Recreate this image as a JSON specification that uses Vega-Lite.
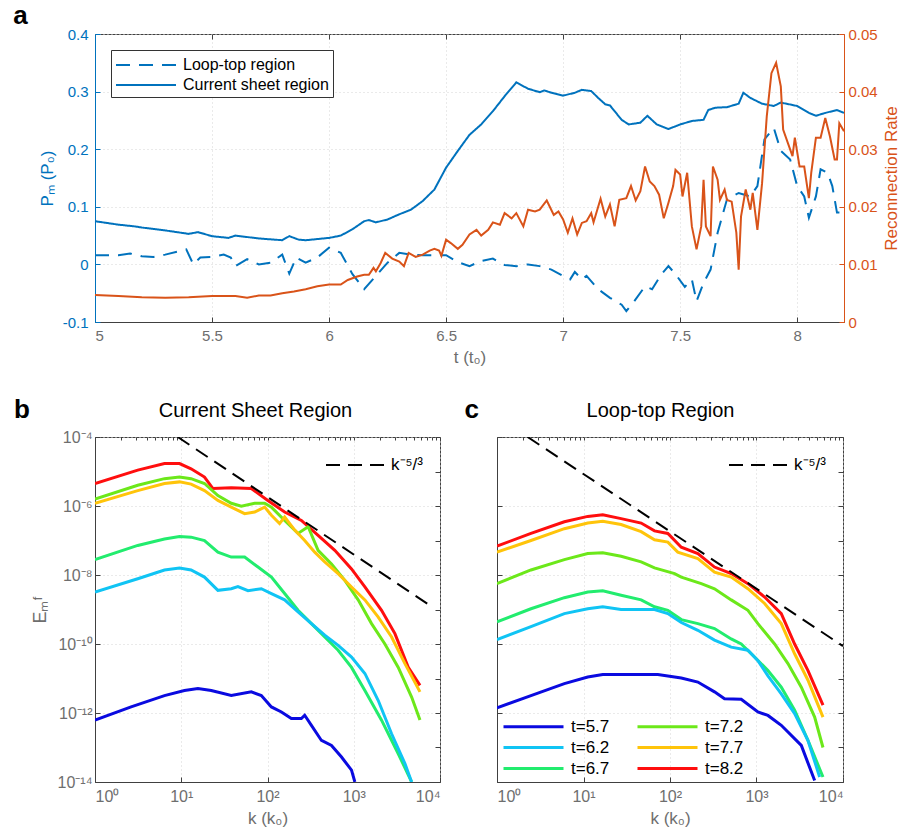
{
  "$schema": "https://vega.github.io/schema/vega-lite/v6.json",
  "background": "white",
  "padding": {"left": 12, "top": 2, "right": 4, "bottom": 4},
  "config": {
    "font": "Liberation Sans",
    "view": {"stroke": "#404040", "strokeWidth": 1},
    "axis": {"domainColor": "#404040", "tickColor": "#404040", "labelColor": "#6e6e6e", "titleColor": "#6e6e6e", "labelFontSize": 15, "titleFontSize": 17, "titleFontWeight": "normal", "gridColor": "#d4d4d4", "gridDash": [1, 3], "tickSize": -5, "labelPadding": 11},
    "legend": {"labelFont": "Liberation Sans", "labelColor": "#000", "labelLimit": 300}
  },
  "datasets": {
    "pm": [
      {"t": 5.0, "P": 0.075, "region": "Current sheet region"}, {"t": 5.1, "P": 0.069, "region": "Current sheet region"}, {"t": 5.17, "P": 0.066, "region": "Current sheet region"}, {"t": 5.2, "P": 0.064, "region": "Current sheet region"}, {"t": 5.3, "P": 0.059, "region": "Current sheet region"}, {"t": 5.4, "P": 0.053, "region": "Current sheet region"}, {"t": 5.44, "P": 0.056, "region": "Current sheet region"}, {"t": 5.5, "P": 0.049, "region": "Current sheet region"}, {"t": 5.57, "P": 0.046, "region": "Current sheet region"}, {"t": 5.6, "P": 0.05, "region": "Current sheet region"}, {"t": 5.7, "P": 0.045, "region": "Current sheet region"}, {"t": 5.8, "P": 0.042, "region": "Current sheet region"}, {"t": 5.83, "P": 0.049, "region": "Current sheet region"}, {"t": 5.87, "P": 0.043, "region": "Current sheet region"}, {"t": 5.9, "P": 0.042, "region": "Current sheet region"}, {"t": 6.0, "P": 0.046, "region": "Current sheet region"}, {"t": 6.05, "P": 0.05, "region": "Current sheet region"}, {"t": 6.1, "P": 0.061, "region": "Current sheet region"}, {"t": 6.15, "P": 0.075, "region": "Current sheet region"}, {"t": 6.17, "P": 0.077, "region": "Current sheet region"}, {"t": 6.2, "P": 0.073, "region": "Current sheet region"}, {"t": 6.25, "P": 0.078, "region": "Current sheet region"}, {"t": 6.3, "P": 0.087, "region": "Current sheet region"}, {"t": 6.35, "P": 0.095, "region": "Current sheet region"}, {"t": 6.4, "P": 0.11, "region": "Current sheet region"}, {"t": 6.45, "P": 0.13, "region": "Current sheet region"}, {"t": 6.5, "P": 0.168, "region": "Current sheet region"}, {"t": 6.55, "P": 0.197, "region": "Current sheet region"}, {"t": 6.6, "P": 0.225, "region": "Current sheet region"}, {"t": 6.65, "P": 0.243, "region": "Current sheet region"}, {"t": 6.7, "P": 0.266, "region": "Current sheet region"}, {"t": 6.75, "P": 0.292, "region": "Current sheet region"}, {"t": 6.8, "P": 0.316, "region": "Current sheet region"}, {"t": 6.85, "P": 0.305, "region": "Current sheet region"}, {"t": 6.9, "P": 0.299, "region": "Current sheet region"}, {"t": 6.92, "P": 0.302, "region": "Current sheet region"}, {"t": 6.95, "P": 0.298, "region": "Current sheet region"}, {"t": 7.0, "P": 0.293, "region": "Current sheet region"}, {"t": 7.05, "P": 0.298, "region": "Current sheet region"}, {"t": 7.08, "P": 0.303, "region": "Current sheet region"}, {"t": 7.12, "P": 0.301, "region": "Current sheet region"}, {"t": 7.15, "P": 0.289, "region": "Current sheet region"}, {"t": 7.18, "P": 0.278, "region": "Current sheet region"}, {"t": 7.2, "P": 0.276, "region": "Current sheet region"}, {"t": 7.25, "P": 0.251, "region": "Current sheet region"}, {"t": 7.28, "P": 0.243, "region": "Current sheet region"}, {"t": 7.33, "P": 0.246, "region": "Current sheet region"}, {"t": 7.36, "P": 0.258, "region": "Current sheet region"}, {"t": 7.4, "P": 0.243, "region": "Current sheet region"}, {"t": 7.45, "P": 0.235, "region": "Current sheet region"}, {"t": 7.5, "P": 0.243, "region": "Current sheet region"}, {"t": 7.55, "P": 0.249, "region": "Current sheet region"}, {"t": 7.6, "P": 0.251, "region": "Current sheet region"}, {"t": 7.62, "P": 0.268, "region": "Current sheet region"}, {"t": 7.65, "P": 0.272, "region": "Current sheet region"}, {"t": 7.7, "P": 0.273, "region": "Current sheet region"}, {"t": 7.75, "P": 0.279, "region": "Current sheet region"}, {"t": 7.77, "P": 0.298, "region": "Current sheet region"}, {"t": 7.8, "P": 0.289, "region": "Current sheet region"}, {"t": 7.85, "P": 0.279, "region": "Current sheet region"}, {"t": 7.9, "P": 0.275, "region": "Current sheet region"}, {"t": 7.93, "P": 0.281, "region": "Current sheet region"}, {"t": 8.0, "P": 0.275, "region": "Current sheet region"}, {"t": 8.05, "P": 0.263, "region": "Current sheet region"}, {"t": 8.08, "P": 0.258, "region": "Current sheet region"}, {"t": 8.12, "P": 0.263, "region": "Current sheet region"}, {"t": 8.17, "P": 0.268, "region": "Current sheet region"}, {"t": 8.2, "P": 0.263, "region": "Current sheet region"},
      {"t": 5.0, "P": 0.016, "region": "Loop-top region"}, {"t": 5.1, "P": 0.016, "region": "Loop-top region"}, {"t": 5.15, "P": 0.019, "region": "Loop-top region"}, {"t": 5.2, "P": 0.014, "region": "Loop-top region"}, {"t": 5.25, "P": 0.013, "region": "Loop-top region"}, {"t": 5.3, "P": 0.017, "region": "Loop-top region"}, {"t": 5.35, "P": 0.022, "region": "Loop-top region"}, {"t": 5.39, "P": 0.026, "region": "Loop-top region"}, {"t": 5.42, "P": 0.0, "region": "Loop-top region"}, {"t": 5.45, "P": 0.012, "region": "Loop-top region"}, {"t": 5.5, "P": 0.013, "region": "Loop-top region"}, {"t": 5.55, "P": 0.017, "region": "Loop-top region"}, {"t": 5.58, "P": 0.012, "region": "Loop-top region"}, {"t": 5.6, "P": -0.003, "region": "Loop-top region"}, {"t": 5.65, "P": 0.009, "region": "Loop-top region"}, {"t": 5.7, "P": 0.0, "region": "Loop-top region"}, {"t": 5.75, "P": 0.003, "region": "Loop-top region"}, {"t": 5.8, "P": 0.017, "region": "Loop-top region"}, {"t": 5.83, "P": -0.016, "region": "Loop-top region"}, {"t": 5.86, "P": 0.012, "region": "Loop-top region"}, {"t": 5.9, "P": 0.003, "region": "Loop-top region"}, {"t": 5.95, "P": 0.012, "region": "Loop-top region"}, {"t": 6.0, "P": 0.029, "region": "Loop-top region"}, {"t": 6.05, "P": 0.02, "region": "Loop-top region"}, {"t": 6.1, "P": -0.017, "region": "Loop-top region"}, {"t": 6.15, "P": -0.043, "region": "Loop-top region"}, {"t": 6.2, "P": -0.02, "region": "Loop-top region"}, {"t": 6.25, "P": 0.003, "region": "Loop-top region"}, {"t": 6.3, "P": 0.02, "region": "Loop-top region"}, {"t": 6.35, "P": 0.017, "region": "Loop-top region"}, {"t": 6.4, "P": 0.016, "region": "Loop-top region"}, {"t": 6.5, "P": 0.016, "region": "Loop-top region"}, {"t": 6.55, "P": 0.004, "region": "Loop-top region"}, {"t": 6.6, "P": -0.003, "region": "Loop-top region"}, {"t": 6.65, "P": 0.006, "region": "Loop-top region"}, {"t": 6.7, "P": 0.01, "region": "Loop-top region"}, {"t": 6.75, "P": -0.001, "region": "Loop-top region"}, {"t": 6.8, "P": -0.003, "region": "Loop-top region"}, {"t": 6.85, "P": 0.0, "region": "Loop-top region"}, {"t": 6.9, "P": -0.003, "region": "Loop-top region"}, {"t": 6.95, "P": -0.009, "region": "Loop-top region"}, {"t": 7.0, "P": -0.02, "region": "Loop-top region"}, {"t": 7.03, "P": -0.026, "region": "Loop-top region"}, {"t": 7.05, "P": -0.013, "region": "Loop-top region"}, {"t": 7.08, "P": -0.026, "region": "Loop-top region"}, {"t": 7.1, "P": -0.02, "region": "Loop-top region"}, {"t": 7.15, "P": -0.043, "region": "Loop-top region"}, {"t": 7.2, "P": -0.058, "region": "Loop-top region"}, {"t": 7.25, "P": -0.07, "region": "Loop-top region"}, {"t": 7.27, "P": -0.081, "region": "Loop-top region"}, {"t": 7.3, "P": -0.066, "region": "Loop-top region"}, {"t": 7.35, "P": -0.038, "region": "Loop-top region"}, {"t": 7.38, "P": -0.043, "region": "Loop-top region"}, {"t": 7.42, "P": -0.017, "region": "Loop-top region"}, {"t": 7.45, "P": -0.003, "region": "Loop-top region"}, {"t": 7.48, "P": -0.017, "region": "Loop-top region"}, {"t": 7.52, "P": -0.039, "region": "Loop-top region"}, {"t": 7.55, "P": -0.026, "region": "Loop-top region"}, {"t": 7.57, "P": -0.064, "region": "Loop-top region"}, {"t": 7.6, "P": -0.032, "region": "Loop-top region"}, {"t": 7.63, "P": -0.009, "region": "Loop-top region"}, {"t": 7.66, "P": 0.055, "region": "Loop-top region"}, {"t": 7.7, "P": 0.113, "region": "Loop-top region"}, {"t": 7.75, "P": 0.124, "region": "Loop-top region"}, {"t": 7.8, "P": 0.118, "region": "Loop-top region"}, {"t": 7.83, "P": 0.136, "region": "Loop-top region"}, {"t": 7.86, "P": 0.217, "region": "Loop-top region"}, {"t": 7.9, "P": 0.237, "region": "Loop-top region"}, {"t": 7.93, "P": 0.197, "region": "Loop-top region"}, {"t": 7.97, "P": 0.182, "region": "Loop-top region"}, {"t": 8.0, "P": 0.136, "region": "Loop-top region"}, {"t": 8.03, "P": 0.118, "region": "Loop-top region"}, {"t": 8.05, "P": 0.081, "region": "Loop-top region"}, {"t": 8.08, "P": 0.118, "region": "Loop-top region"}, {"t": 8.1, "P": 0.165, "region": "Loop-top region"}, {"t": 8.13, "P": 0.159, "region": "Loop-top region"}, {"t": 8.15, "P": 0.136, "region": "Loop-top region"}, {"t": 8.17, "P": 0.09, "region": "Loop-top region"}, {"t": 8.2, "P": 0.09, "region": "Loop-top region"}
    ],
    "rate": [
      {"t": 5.0, "R": 0.0047}, {"t": 5.1, "R": 0.0045}, {"t": 5.2, "R": 0.0043}, {"t": 5.3, "R": 0.0042}, {"t": 5.4, "R": 0.0043}, {"t": 5.5, "R": 0.0045}, {"t": 5.6, "R": 0.0045}, {"t": 5.65, "R": 0.0042}, {"t": 5.7, "R": 0.0046}, {"t": 5.75, "R": 0.0046}, {"t": 5.8, "R": 0.005}, {"t": 5.85, "R": 0.0053}, {"t": 5.9, "R": 0.0057}, {"t": 5.95, "R": 0.0062}, {"t": 6.0, "R": 0.0065}, {"t": 6.05, "R": 0.0065}, {"t": 6.08, "R": 0.0073}, {"t": 6.12, "R": 0.0079}, {"t": 6.15, "R": 0.0082}, {"t": 6.17, "R": 0.0082}, {"t": 6.19, "R": 0.0094}, {"t": 6.2, "R": 0.0088}, {"t": 6.22, "R": 0.0102}, {"t": 6.24, "R": 0.012}, {"t": 6.27, "R": 0.011}, {"t": 6.3, "R": 0.0105}, {"t": 6.32, "R": 0.0097}, {"t": 6.34, "R": 0.012}, {"t": 6.37, "R": 0.0113}, {"t": 6.4, "R": 0.0117}, {"t": 6.43, "R": 0.0124}, {"t": 6.45, "R": 0.0127}, {"t": 6.47, "R": 0.0124}, {"t": 6.48, "R": 0.0115}, {"t": 6.5, "R": 0.0143}, {"t": 6.52, "R": 0.0137}, {"t": 6.55, "R": 0.0127}, {"t": 6.57, "R": 0.0134}, {"t": 6.6, "R": 0.0152}, {"t": 6.63, "R": 0.016}, {"t": 6.65, "R": 0.015}, {"t": 6.68, "R": 0.016}, {"t": 6.7, "R": 0.0173}, {"t": 6.73, "R": 0.0169}, {"t": 6.75, "R": 0.0189}, {"t": 6.78, "R": 0.018}, {"t": 6.8, "R": 0.0189}, {"t": 6.83, "R": 0.0166}, {"t": 6.85, "R": 0.0195}, {"t": 6.88, "R": 0.0192}, {"t": 6.9, "R": 0.0195}, {"t": 6.93, "R": 0.0211}, {"t": 6.96, "R": 0.0186}, {"t": 6.98, "R": 0.0192}, {"t": 7.0, "R": 0.0178}, {"t": 7.02, "R": 0.0155}, {"t": 7.04, "R": 0.018}, {"t": 7.06, "R": 0.0152}, {"t": 7.08, "R": 0.0172}, {"t": 7.1, "R": 0.0175}, {"t": 7.12, "R": 0.0189}, {"t": 7.13, "R": 0.0173}, {"t": 7.16, "R": 0.0214}, {"t": 7.18, "R": 0.0183}, {"t": 7.2, "R": 0.0204}, {"t": 7.22, "R": 0.0166}, {"t": 7.24, "R": 0.0212}, {"t": 7.27, "R": 0.0215}, {"t": 7.29, "R": 0.0236}, {"t": 7.31, "R": 0.0211}, {"t": 7.33, "R": 0.0227}, {"t": 7.35, "R": 0.027}, {"t": 7.37, "R": 0.0244}, {"t": 7.39, "R": 0.0236}, {"t": 7.41, "R": 0.0221}, {"t": 7.43, "R": 0.018}, {"t": 7.45, "R": 0.0207}, {"t": 7.47, "R": 0.0236}, {"t": 7.48, "R": 0.0264}, {"t": 7.5, "R": 0.0256}, {"t": 7.51, "R": 0.0218}, {"t": 7.53, "R": 0.0259}, {"t": 7.55, "R": 0.0166}, {"t": 7.57, "R": 0.0126}, {"t": 7.59, "R": 0.0166}, {"t": 7.6, "R": 0.0247}, {"t": 7.61, "R": 0.0166}, {"t": 7.63, "R": 0.0149}, {"t": 7.64, "R": 0.027}, {"t": 7.66, "R": 0.0247}, {"t": 7.67, "R": 0.0212}, {"t": 7.69, "R": 0.023}, {"t": 7.7, "R": 0.0212}, {"t": 7.72, "R": 0.0209}, {"t": 7.74, "R": 0.0155}, {"t": 7.75, "R": 0.0091}, {"t": 7.76, "R": 0.0183}, {"t": 7.78, "R": 0.023}, {"t": 7.8, "R": 0.0195}, {"t": 7.81, "R": 0.0224}, {"t": 7.83, "R": 0.016}, {"t": 7.85, "R": 0.0241}, {"t": 7.87, "R": 0.0357}, {"t": 7.89, "R": 0.0432}, {"t": 7.91, "R": 0.045}, {"t": 7.93, "R": 0.0409}, {"t": 7.94, "R": 0.0334}, {"t": 7.96, "R": 0.0311}, {"t": 7.98, "R": 0.0288}, {"t": 7.99, "R": 0.032}, {"t": 8.01, "R": 0.027}, {"t": 8.03, "R": 0.027}, {"t": 8.05, "R": 0.0215}, {"t": 8.06, "R": 0.0259}, {"t": 8.08, "R": 0.032}, {"t": 8.1, "R": 0.032}, {"t": 8.12, "R": 0.0354}, {"t": 8.14, "R": 0.0322}, {"t": 8.16, "R": 0.0282}, {"t": 8.17, "R": 0.0282}, {"t": 8.18, "R": 0.0345}, {"t": 8.2, "R": 0.0331}
    ],
    "specB": [
      {"k": 1, "E": 4.5e-6, "s": "t=8.2"}, {"k": 3.13, "E": 1.1e-5, "s": "t=8.2"}, {"k": 6.39, "E": 1.7e-5, "s": "t=8.2"}, {"k": 9.55, "E": 1.7e-5, "s": "t=8.2"}, {"k": 13, "E": 1.2e-5, "s": "t=8.2"}, {"k": 18.6, "E": 6.9e-6, "s": "t=8.2"}, {"k": 23.3, "E": 3.2e-6, "s": "t=8.2"}, {"k": 38, "E": 3.4e-6, "s": "t=8.2"}, {"k": 64.9, "E": 3.2e-6, "s": "t=8.2"}, {"k": 101, "E": 1.45e-6, "s": "t=8.2"}, {"k": 158, "E": 6.7e-7, "s": "t=8.2"}, {"k": 247, "E": 3.8e-7, "s": "t=8.2"}, {"k": 386, "E": 1.4e-7, "s": "t=8.2"}, {"k": 603, "E": 5.2e-8, "s": "t=8.2"}, {"k": 942, "E": 1.5e-8, "s": "t=8.2"}, {"k": 1346, "E": 4.5e-9, "s": "t=8.2"}, {"k": 2100, "E": 9.5e-10, "s": "t=8.2"}, {"k": 3001, "E": 2e-10, "s": "t=8.2"}, {"k": 4287, "E": 2.1e-11, "s": "t=8.2"}, {"k": 5857, "E": 6.3e-12, "s": "t=8.2"},
      {"k": 1, "E": 1.6e-6, "s": "t=7.2"}, {"k": 3.13, "E": 4e-6, "s": "t=7.2"}, {"k": 6.39, "E": 6.2e-6, "s": "t=7.2"}, {"k": 9.55, "E": 6.9e-6, "s": "t=7.2"}, {"k": 13, "E": 6.2e-6, "s": "t=7.2"}, {"k": 18.6, "E": 4.5e-6, "s": "t=7.2"}, {"k": 26.6, "E": 2e-6, "s": "t=7.2"}, {"k": 38, "E": 1.2e-6, "s": "t=7.2"}, {"k": 49.7, "E": 9.8e-7, "s": "t=7.2"}, {"k": 71, "E": 1.2e-6, "s": "t=7.2"}, {"k": 92.7, "E": 1.2e-6, "s": "t=7.2"}, {"k": 111, "E": 9.3e-7, "s": "t=7.2"}, {"k": 158, "E": 3.8e-7, "s": "t=7.2"}, {"k": 226, "E": 1.6e-7, "s": "t=7.2"}, {"k": 296, "E": 2.5e-7, "s": "t=7.2"}, {"k": 386, "E": 5.2e-8, "s": "t=7.2"}, {"k": 552, "E": 2.1e-8, "s": "t=7.2"}, {"k": 788, "E": 7e-9, "s": "t=7.2"}, {"k": 1125, "E": 1.9e-9, "s": "t=7.2"}, {"k": 1608, "E": 3.9e-10, "s": "t=7.2"}, {"k": 2297, "E": 1e-10, "s": "t=7.2"}, {"k": 3281, "E": 2.1e-11, "s": "t=7.2"}, {"k": 4688, "E": 2.9e-12, "s": "t=7.2"}, {"k": 5857, "E": 6.3e-13, "s": "t=7.2"},
      {"k": 1, "E": 1.2e-6, "s": "t=7.7"}, {"k": 3.13, "E": 2.8e-6, "s": "t=7.7"}, {"k": 6.39, "E": 4.5e-6, "s": "t=7.7"}, {"k": 9.55, "E": 5e-6, "s": "t=7.7"}, {"k": 13, "E": 4.3e-6, "s": "t=7.7"}, {"k": 18.6, "E": 2.8e-6, "s": "t=7.7"}, {"k": 26.6, "E": 1.45e-6, "s": "t=7.7"}, {"k": 38, "E": 9.3e-7, "s": "t=7.7"}, {"k": 54.3, "E": 6e-7, "s": "t=7.7"}, {"k": 71, "E": 6.7e-7, "s": "t=7.7"}, {"k": 92.7, "E": 9.3e-7, "s": "t=7.7"}, {"k": 111, "E": 5.4e-7, "s": "t=7.7"}, {"k": 138, "E": 3.1e-7, "s": "t=7.7"}, {"k": 158, "E": 4.8e-7, "s": "t=7.7"}, {"k": 207, "E": 2e-7, "s": "t=7.7"}, {"k": 270, "E": 1e-7, "s": "t=7.7"}, {"k": 353, "E": 4.6e-8, "s": "t=7.7"}, {"k": 461, "E": 2.4e-8, "s": "t=7.7"}, {"k": 659, "E": 1.1e-8, "s": "t=7.7"}, {"k": 942, "E": 4.5e-9, "s": "t=7.7"}, {"k": 1346, "E": 1.9e-9, "s": "t=7.7"}, {"k": 1923, "E": 6e-10, "s": "t=7.7"}, {"k": 2746, "E": 1.6e-10, "s": "t=7.7"}, {"k": 3921, "E": 2.7e-11, "s": "t=7.7"}, {"k": 5857, "E": 4.1e-12, "s": "t=7.7"},
      {"k": 1, "E": 2.8e-8, "s": "t=6.7"}, {"k": 3.13, "E": 7.2e-8, "s": "t=6.7"}, {"k": 6.39, "E": 1.1e-7, "s": "t=6.7"}, {"k": 9.55, "E": 1.3e-7, "s": "t=6.7"}, {"k": 13, "E": 1.25e-7, "s": "t=6.7"}, {"k": 18.6, "E": 1e-7, "s": "t=6.7"}, {"k": 26.6, "E": 4.6e-8, "s": "t=6.7"}, {"k": 38, "E": 3.3e-8, "s": "t=6.7"}, {"k": 54.3, "E": 3.3e-8, "s": "t=6.7"}, {"k": 77.6, "E": 1.7e-8, "s": "t=6.7"}, {"k": 111, "E": 8.7e-9, "s": "t=6.7"}, {"k": 158, "E": 2.9e-9, "s": "t=6.7"}, {"k": 226, "E": 9.5e-10, "s": "t=6.7"}, {"k": 323, "E": 3.9e-10, "s": "t=6.7"}, {"k": 461, "E": 1.6e-10, "s": "t=6.7"}, {"k": 659, "E": 6.6e-11, "s": "t=6.7"}, {"k": 942, "E": 2.1e-11, "s": "t=6.7"}, {"k": 1346, "E": 4.5e-12, "s": "t=6.7"}, {"k": 2100, "E": 6.2e-13, "s": "t=6.7"}, {"k": 3281, "E": 6.6e-14, "s": "t=6.7"}, {"k": 4688, "E": 1e-14, "s": "t=6.7"},
      {"k": 1, "E": 3.2e-9, "s": "t=6.2"}, {"k": 3.13, "E": 7.8e-9, "s": "t=6.2"}, {"k": 6.39, "E": 1.4e-8, "s": "t=6.2"}, {"k": 9.55, "E": 1.6e-8, "s": "t=6.2"}, {"k": 13, "E": 1.4e-8, "s": "t=6.2"}, {"k": 18.6, "E": 8.7e-9, "s": "t=6.2"}, {"k": 26.6, "E": 3.6e-9, "s": "t=6.2"}, {"k": 38, "E": 4e-9, "s": "t=6.2"}, {"k": 45.4, "E": 4.6e-9, "s": "t=6.2"}, {"k": 59.4, "E": 3.5e-9, "s": "t=6.2"}, {"k": 84.8, "E": 4e-9, "s": "t=6.2"}, {"k": 111, "E": 2.9e-9, "s": "t=6.2"}, {"k": 158, "E": 1.9e-9, "s": "t=6.2"}, {"k": 226, "E": 8.5e-10, "s": "t=6.2"}, {"k": 323, "E": 3.9e-10, "s": "t=6.2"}, {"k": 461, "E": 1.8e-10, "s": "t=6.2"}, {"k": 659, "E": 9.1e-11, "s": "t=6.2"}, {"k": 942, "E": 4.2e-11, "s": "t=6.2"}, {"k": 1346, "E": 1.4e-11, "s": "t=6.2"}, {"k": 1923, "E": 2.3e-12, "s": "t=6.2"}, {"k": 2746, "E": 2.5e-13, "s": "t=6.2"}, {"k": 3921, "E": 3.4e-14, "s": "t=6.2"}, {"k": 4688, "E": 1e-14, "s": "t=6.2"},
      {"k": 1, "E": 6.2e-13, "s": "t=5.7"}, {"k": 2.62, "E": 1.5e-12, "s": "t=5.7"}, {"k": 6.39, "E": 3.2e-12, "s": "t=5.7"}, {"k": 10.9, "E": 4.5e-12, "s": "t=5.7"}, {"k": 15.6, "E": 5.1e-12, "s": "t=5.7"}, {"k": 22.3, "E": 4.5e-12, "s": "t=5.7"}, {"k": 38, "E": 3.2e-12, "s": "t=5.7"}, {"k": 64.9, "E": 4.1e-12, "s": "t=5.7"}, {"k": 84.8, "E": 3.2e-12, "s": "t=5.7"}, {"k": 111, "E": 1.5e-12, "s": "t=5.7"}, {"k": 145, "E": 1.07e-12, "s": "t=5.7"}, {"k": 189, "E": 6.9e-13, "s": "t=5.7"}, {"k": 247, "E": 6.9e-13, "s": "t=5.7"}, {"k": 270, "E": 8.6e-13, "s": "t=5.7"}, {"k": 323, "E": 4.4e-13, "s": "t=5.7"}, {"k": 422, "E": 1.6e-13, "s": "t=5.7"}, {"k": 552, "E": 1.15e-13, "s": "t=5.7"}, {"k": 721, "E": 5.3e-14, "s": "t=5.7"}, {"k": 942, "E": 2.2e-14, "s": "t=5.7"}, {"k": 1030, "E": 1e-14, "s": "t=5.7"}
    ],
    "specC": [
      {"k": 1, "E": 6.9e-8, "s": "t=8.2"}, {"k": 2.47, "E": 1.6e-7, "s": "t=8.2"}, {"k": 6.01, "E": 3.5e-7, "s": "t=8.2"}, {"k": 11.2, "E": 5e-7, "s": "t=8.2"}, {"k": 16.7, "E": 5.6e-7, "s": "t=8.2"}, {"k": 27.2, "E": 4.3e-7, "s": "t=8.2"}, {"k": 46.4, "E": 3.2e-7, "s": "t=8.2"}, {"k": 66.2, "E": 1.9e-7, "s": "t=8.2"}, {"k": 94.4, "E": 1.6e-7, "s": "t=8.2"}, {"k": 135, "E": 6.4e-8, "s": "t=8.2"}, {"k": 210, "E": 4.2e-8, "s": "t=8.2"}, {"k": 327, "E": 1.7e-8, "s": "t=8.2"}, {"k": 510, "E": 1.1e-8, "s": "t=8.2"}, {"k": 796, "E": 5.6e-9, "s": "t=8.2"}, {"k": 1241, "E": 2.3e-9, "s": "t=8.2"}, {"k": 1934, "E": 7.6e-10, "s": "t=8.2"}, {"k": 2759, "E": 1e-10, "s": "t=8.2"}, {"k": 3937, "E": 1.7e-11, "s": "t=8.2"}, {"k": 5870, "E": 1.7e-12, "s": "t=8.2"},
      {"k": 1, "E": 4.6e-8, "s": "t=7.7"}, {"k": 2.47, "E": 1e-7, "s": "t=7.7"}, {"k": 6.01, "E": 2.2e-7, "s": "t=7.7"}, {"k": 11.2, "E": 3.2e-7, "s": "t=7.7"}, {"k": 16.7, "E": 3.6e-7, "s": "t=7.7"}, {"k": 27.2, "E": 2.9e-7, "s": "t=7.7"}, {"k": 46.4, "E": 1.8e-7, "s": "t=7.7"}, {"k": 66.2, "E": 1.05e-7, "s": "t=7.7"}, {"k": 94.4, "E": 9e-8, "s": "t=7.7"}, {"k": 123, "E": 4.6e-8, "s": "t=7.7"}, {"k": 210, "E": 3e-8, "s": "t=7.7"}, {"k": 327, "E": 1.2e-8, "s": "t=7.7"}, {"k": 510, "E": 8.7e-9, "s": "t=7.7"}, {"k": 796, "E": 4e-9, "s": "t=7.7"}, {"k": 1241, "E": 1.5e-9, "s": "t=7.7"}, {"k": 1934, "E": 3.9e-10, "s": "t=7.7"}, {"k": 2759, "E": 5.2e-11, "s": "t=7.7"}, {"k": 3937, "E": 8.9e-12, "s": "t=7.7"}, {"k": 5870, "E": 7.6e-13, "s": "t=7.7"},
      {"k": 1, "E": 5.6e-9, "s": "t=7.2"}, {"k": 2.47, "E": 1.4e-8, "s": "t=7.2"}, {"k": 6.01, "E": 2.8e-8, "s": "t=7.2"}, {"k": 11.2, "E": 4.2e-8, "s": "t=7.2"}, {"k": 16.7, "E": 4.4e-8, "s": "t=7.2"}, {"k": 27.2, "E": 3.5e-8, "s": "t=7.2"}, {"k": 46.4, "E": 2.4e-8, "s": "t=7.2"}, {"k": 66.2, "E": 1.6e-8, "s": "t=7.2"}, {"k": 113, "E": 1.1e-8, "s": "t=7.2"}, {"k": 135, "E": 8.7e-9, "s": "t=7.2"}, {"k": 230, "E": 5.6e-9, "s": "t=7.2"}, {"k": 327, "E": 4e-9, "s": "t=7.2"}, {"k": 510, "E": 1.9e-9, "s": "t=7.2"}, {"k": 796, "E": 9.5e-10, "s": "t=7.2"}, {"k": 1038, "E": 3.9e-10, "s": "t=7.2"}, {"k": 1619, "E": 1e-10, "s": "t=7.2"}, {"k": 2310, "E": 2.7e-11, "s": "t=7.2"}, {"k": 3296, "E": 5.6e-12, "s": "t=7.2"}, {"k": 4702, "E": 7.6e-13, "s": "t=7.2"}, {"k": 5870, "E": 1e-13, "s": "t=7.2"},
      {"k": 1, "E": 4.4e-10, "s": "t=6.7"}, {"k": 2.47, "E": 1.05e-9, "s": "t=6.7"}, {"k": 6.01, "E": 2.2e-9, "s": "t=6.7"}, {"k": 11.2, "E": 3.2e-9, "s": "t=6.7"}, {"k": 16.7, "E": 3.5e-9, "s": "t=6.7"}, {"k": 27.2, "E": 2.6e-9, "s": "t=6.7"}, {"k": 46.4, "E": 1.9e-9, "s": "t=6.7"}, {"k": 66.2, "E": 1.2e-9, "s": "t=6.7"}, {"k": 94.4, "E": 9.5e-10, "s": "t=6.7"}, {"k": 135, "E": 5.1e-10, "s": "t=6.7"}, {"k": 210, "E": 3.9e-10, "s": "t=6.7"}, {"k": 327, "E": 2.8e-10, "s": "t=6.7"}, {"k": 510, "E": 1.4e-10, "s": "t=6.7"}, {"k": 666, "E": 1e-10, "s": "t=6.7"}, {"k": 951, "E": 4.2e-11, "s": "t=6.7"}, {"k": 1356, "E": 1.7e-11, "s": "t=6.7"}, {"k": 1934, "E": 5.6e-12, "s": "t=6.7"}, {"k": 2759, "E": 1.2e-12, "s": "t=6.7"}, {"k": 3937, "E": 1.6e-13, "s": "t=6.7"}, {"k": 5870, "E": 1.4e-14, "s": "t=6.7"},
      {"k": 1, "E": 1.35e-10, "s": "t=6.2"}, {"k": 2.47, "E": 3.2e-10, "s": "t=6.2"}, {"k": 6.01, "E": 7.6e-10, "s": "t=6.2"}, {"k": 11.2, "E": 1.05e-9, "s": "t=6.2"}, {"k": 16.7, "E": 1.2e-9, "s": "t=6.2"}, {"k": 27.2, "E": 1e-9, "s": "t=6.2"}, {"k": 46.4, "E": 1e-9, "s": "t=6.2"}, {"k": 66.2, "E": 1e-9, "s": "t=6.2"}, {"k": 94.4, "E": 7.6e-10, "s": "t=6.2"}, {"k": 135, "E": 4.2e-10, "s": "t=6.2"}, {"k": 210, "E": 2.5e-10, "s": "t=6.2"}, {"k": 327, "E": 1.3e-10, "s": "t=6.2"}, {"k": 510, "E": 8.1e-11, "s": "t=6.2"}, {"k": 796, "E": 6.6e-11, "s": "t=6.2"}, {"k": 1038, "E": 3.3e-11, "s": "t=6.2"}, {"k": 1356, "E": 1.2e-11, "s": "t=6.2"}, {"k": 1934, "E": 3.6e-12, "s": "t=6.2"}, {"k": 2759, "E": 9.6e-13, "s": "t=6.2"}, {"k": 3937, "E": 1.6e-13, "s": "t=6.2"}, {"k": 5369, "E": 1.4e-14, "s": "t=6.2"},
      {"k": 1, "E": 1.4e-12, "s": "t=5.7"}, {"k": 2.47, "E": 3.2e-12, "s": "t=5.7"}, {"k": 6.01, "E": 7.1e-12, "s": "t=5.7"}, {"k": 11.2, "E": 1.1e-11, "s": "t=5.7"}, {"k": 16.7, "E": 1.3e-11, "s": "t=5.7"}, {"k": 27.2, "E": 1.3e-11, "s": "t=5.7"}, {"k": 46.4, "E": 1.3e-11, "s": "t=5.7"}, {"k": 72.3, "E": 1.3e-11, "s": "t=5.7"}, {"k": 135, "E": 1.03e-11, "s": "t=5.7"}, {"k": 210, "E": 7.9e-12, "s": "t=5.7"}, {"k": 327, "E": 4.1e-12, "s": "t=5.7"}, {"k": 427, "E": 2.6e-12, "s": "t=5.7"}, {"k": 666, "E": 2.5e-12, "s": "t=5.7"}, {"k": 1038, "E": 1.07e-12, "s": "t=5.7"}, {"k": 1356, "E": 8.5e-13, "s": "t=5.7"}, {"k": 1934, "E": 4.4e-13, "s": "t=5.7"}, {"k": 3296, "E": 1.15e-13, "s": "t=5.7"}, {"k": 4702, "E": 1.1e-14, "s": "t=5.7"}
    ],
    "kB": [{"k": 9.1, "E": 1e-4, "n": "k⁻⁵/³"}, {"k": 8370, "E": 1.13e-9, "n": "k⁻⁵/³"}],
    "kC": [{"k": 2.26, "E": 1e-4, "n": "k⁻⁵/³"}, {"k": 10000, "E": 8.7e-11, "n": "k⁻⁵/³"}]
  },
  "spacing": 115,
  "bounds": "flush",
  "resolve": {"scale": {"strokeDash": "independent", "color": "independent"}, "legend": {"strokeDash": "independent", "color": "independent"}},
  "vconcat": [
    {
      "width": 749,
      "height": 288,
      "title": {"text": "a", "anchor": "start", "frame": "bounds", "fontSize": 26, "fontWeight": "bold", "color": "#000", "dx": -25, "offset": -2},
      "layer": [
        {
          "data": {"name": "pm"},
          "mark": {"type": "line", "color": "#0072BD", "strokeWidth": 2},
          "encoding": {
            "x": {"field": "t", "type": "quantitative", "scale": {"domain": [5, 8.2], "nice": false, "zero": false},
              "axis": {"values": [5, 5.5, 6, 6.5, 7, 7.5, 8], "labelExpr": "'' + datum.value", "title": "t (t₀)", "grid": true, "titlePadding": 6}},
            "y": {"field": "P", "type": "quantitative", "scale": {"domain": [-0.1, 0.4], "nice": false, "zero": false},
              "axis": {"values": [-0.1, 0, 0.1, 0.2, 0.3, 0.4], "labelExpr": "'' + datum.value", "title": "Pₘ (P₀)", "grid": true, "domainColor": "#0072BD", "tickColor": "#0072BD", "labelColor": "#0072BD", "titleColor": "#0072BD", "labelPadding": 12, "titlePadding": 6}},
            "strokeDash": {"field": "region", "type": "nominal", "scale": {"domain": ["Loop-top region", "Current sheet region"], "range": [[14, 9], [1, 0]]},
              "legend": {"title": null, "orient": "top-left", "offset": 16, "strokeColor": "#333", "fillColor": "white", "padding": 4, "symbolType": "M-1,0H5", "symbolSize": 400, "symbolStrokeWidth": 2, "symbolStrokeColor": "#0072BD", "labelFontSize": 16, "labelColor": "#000", "rowPadding": 1, "labelOffset": 46}}
          }
        },
        {
          "data": {"name": "rate"},
          "mark": {"type": "line", "color": "#D95319", "strokeWidth": 2},
          "encoding": {
            "x": {"field": "t", "type": "quantitative", "scale": {"domain": [5, 8.2], "nice": false, "zero": false},
              "axis": {"orient": "top", "values": [5, 5.5, 6, 6.5, 7, 7.5, 8], "labels": false, "domain": false, "grid": false, "title": null}},
            "y": {"field": "R", "type": "quantitative", "scale": {"domain": [0, 0.05], "nice": false},
              "axis": {"orient": "right", "values": [0, 0.01, 0.02, 0.03, 0.04, 0.05], "labelExpr": "'' + datum.value", "title": "Reconnection Rate", "titleAngle": 270, "titleBaseline": "top", "grid": false, "domainColor": "#D95319", "tickColor": "#D95319", "labelColor": "#D95319", "titleColor": "#D95319", "labelPadding": 9, "titlePadding": 6}}
          }
        }
      ],
      "resolve": {"scale": {"y": "independent"}, "axis": {"x": "independent"}}
    },
    {
      "hconcat": [
        {
          "width": 345,
          "height": 345,
          "title": {"text": "b", "anchor": "start", "frame": "bounds", "fontSize": 26, "fontWeight": "bold", "color": "#000", "dx": -17, "dy": 26},
          "layer": [
            {
              "data": {"name": "specB"},
              "mark": {"type": "line", "strokeWidth": 3, "clip": true},
              "encoding": {
                "x": {"field": "k", "type": "quantitative", "scale": {"type": "log", "domain": [1, 10000]},
                  "axis": {"values": [1, 10, 100, 1000, 10000], "labelExpr": "'10' + ['⁰','¹','²','³','⁴'][round(log(datum.value)/LN10)]", "labelFontSize": 16, "title": "k (k₀)", "grid": true, "titlePadding": 6}},
                "y": {"field": "E", "type": "quantitative", "scale": {"type": "log", "domain": [1e-14, 1e-4]},
                  "axis": {"values": [1e-14, 1e-12, 1e-10, 1e-8, 1e-6, 1e-4], "labelExpr": "'10' + ['⁻¹⁴','⁻¹²','⁻¹⁰','⁻⁸','⁻⁶','⁻⁴'][round((log(datum.value)/LN10 + 14)/2)]", "labelFontSize": 16, "title": "Eₘᶠ", "titleFontSize": 18, "grid": true, "labelPadding": 8, "titlePadding": 8}},
                "color": {"field": "s", "type": "nominal", "scale": {"domain": ["t=5.7", "t=6.2", "t=6.7", "t=7.2", "t=7.7", "t=8.2"], "range": ["#0a0ae0", "#10c4f4", "#22ec6e", "#6ce81a", "#ffc40a", "#ff0e0e"]}, "legend": null}
              }
            },
            {
              "data": {"name": "kB"},
              "mark": {"type": "line", "strokeWidth": 2, "color": "#000", "clip": true},
              "encoding": {
                "x": {"field": "k", "type": "quantitative", "scale": {"type": "log", "domain": [1, 10000]},
                  "axis": {"orient": "top", "values": [1, 2, 3, 4, 5, 6, 7, 8, 9, 10, 20, 30, 40, 50, 60, 70, 80, 90, 100, 200, 300, 400, 500, 600, 700, 800, 900, 1000, 2000, 3000, 4000, 5000, 6000, 7000, 8000, 9000, 10000], "tickSize": -3, "labels": false, "domain": false, "grid": false, "title": "Current Sheet Region", "titleFontSize": 20, "titleColor": "#000", "titlePadding": 16, "titleX": 160, "titleAlign": "center"}},
                "y": {"field": "E", "type": "quantitative", "scale": {"type": "log", "domain": [1e-14, 1e-4]},
                  "axis": {"orient": "right", "values": [1e-14, 1e-13, 1e-12, 1e-11, 1e-10, 1e-9, 1e-8, 1e-7, 1e-6, 1e-5, 1e-4], "labels": false, "domain": false, "grid": false, "title": null}},
                "strokeDash": {"field": "n", "type": "nominal", "scale": {"range": [[14, 8]]},
                  "legend": {"title": null, "orient": "top-right", "offset": 17, "padding": 0, "symbolType": "M-1,0H5", "symbolSize": 400, "symbolStrokeWidth": 2, "symbolStrokeColor": "#000", "labelFontSize": 17, "labelColor": "#000", "labelOffset": 44}}
              }
            }
          ],
          "resolve": {"axis": {"x": "independent", "y": "independent"}}
        },
        {
          "width": 346,
          "height": 345,
          "title": {"text": "c", "anchor": "start", "frame": "bounds", "fontSize": 26, "fontWeight": "bold", "color": "#000", "dx": -32, "dy": 26},
          "layer": [
            {
              "data": {"name": "specC"},
              "mark": {"type": "line", "strokeWidth": 3, "clip": true},
              "encoding": {
                "x": {"field": "k", "type": "quantitative", "scale": {"type": "log", "domain": [1, 10000]},
                  "axis": {"values": [1, 10, 100, 1000, 10000], "labelExpr": "'10' + ['⁰','¹','²','³','⁴'][round(log(datum.value)/LN10)]", "labelFontSize": 16, "title": "k (k₀)", "grid": true, "titlePadding": 6}},
                "y": {"field": "E", "type": "quantitative", "scale": {"type": "log", "domain": [1e-14, 1e-4]},
                  "axis": {"values": [1e-14, 1e-12, 1e-10, 1e-8, 1e-6, 1e-4], "labels": false, "title": null, "grid": true}},
                "color": {"field": "s", "type": "nominal", "scale": {"domain": ["t=5.7", "t=6.2", "t=6.7", "t=7.2", "t=7.7", "t=8.2"], "range": ["#0a0ae0", "#10c4f4", "#22ec6e", "#6ce81a", "#ffc40a", "#ff0e0e"]},
                  "legend": {"title": null, "orient": "bottom-left", "columns": 2, "offset": 5, "padding": 0, "symbolType": "M-1,0H5", "symbolSize": 400, "symbolStrokeWidth": 3, "labelFontSize": 17, "labelColor": "#000", "columnPadding": 21, "rowPadding": 1, "labelOffset": 46}}
              }
            },
            {
              "data": {"name": "kC"},
              "mark": {"type": "line", "strokeWidth": 2, "color": "#000", "clip": true},
              "encoding": {
                "x": {"field": "k", "type": "quantitative", "scale": {"type": "log", "domain": [1, 10000]},
                  "axis": {"orient": "top", "values": [1, 2, 3, 4, 5, 6, 7, 8, 9, 10, 20, 30, 40, 50, 60, 70, 80, 90, 100, 200, 300, 400, 500, 600, 700, 800, 900, 1000, 2000, 3000, 4000, 5000, 6000, 7000, 8000, 9000, 10000], "tickSize": -3, "labels": false, "domain": false, "grid": false, "title": "Loop-top Region", "titleFontSize": 20, "titleColor": "#000", "titlePadding": 16, "titleX": 163, "titleAlign": "center"}},
                "y": {"field": "E", "type": "quantitative", "scale": {"type": "log", "domain": [1e-14, 1e-4]},
                  "axis": {"orient": "right", "values": [1e-14, 1e-13, 1e-12, 1e-11, 1e-10, 1e-9, 1e-8, 1e-7, 1e-6, 1e-5, 1e-4], "labels": false, "domain": false, "grid": false, "title": null}},
                "strokeDash": {"field": "n", "type": "nominal", "scale": {"range": [[14, 8]]},
                  "legend": {"title": null, "orient": "top-right", "offset": 17, "padding": 0, "symbolType": "M-1,0H5", "symbolSize": 400, "symbolStrokeWidth": 2, "symbolStrokeColor": "#000", "labelFontSize": 17, "labelColor": "#000", "labelOffset": 44}}
              }
            }
          ],
          "resolve": {"axis": {"x": "independent", "y": "independent"}}
        }
      ],
      "spacing": 57,
      "bounds": "flush",
      "resolve": {"scale": {"strokeDash": "independent", "color": "independent"}, "legend": {"strokeDash": "independent", "color": "independent"}}
    }
  ]
}
